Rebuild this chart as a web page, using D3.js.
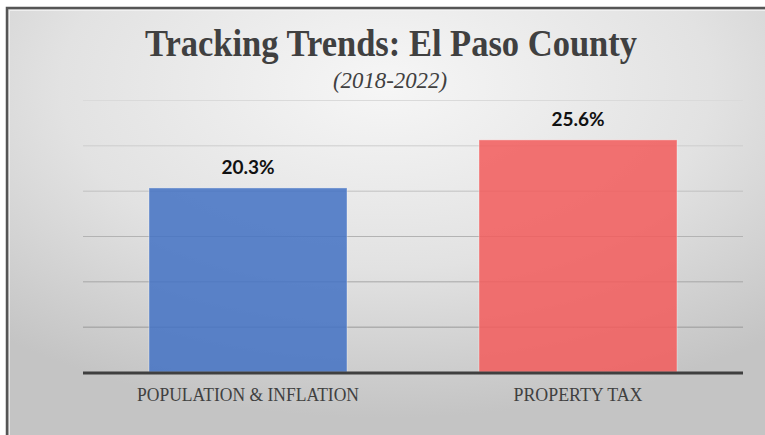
<!DOCTYPE html>
<html>
<head>
<meta charset="utf-8">
<script src="https://cdn.jsdelivr.net/npm/d3@7"></script>
<style>
  body { margin: 0; background: #fff; }
</style>
</head>
<body>
<div id="chart"></div>
<script>
const categories = ['POPULATION & INFLATION', 'PROPERTY TAX']
const values = [20.3, 25.6]
const valueLabels = ['20.3%', '25.6%']
const barColors = ['#4472c4', '#f25c5c']
const gridTicks = [0, 5, 10, 15, 20, 25, 30]

const W = 765, H = 435
const svg = d3.select('#chart').append('svg')
  .attr('width', W).attr('height', H)

const defs = svg.append('defs')
const bg = defs.append('radialGradient').attr('id', 'bg')
  .attr('cx', '50%').attr('cy', '18%').attr('r', '78%')
bg.append('stop').attr('offset', '0%').attr('stop-color', '#f6f6f6')
bg.append('stop').attr('offset', '55%').attr('stop-color', '#e2e2e2')
bg.append('stop').attr('offset', '100%').attr('stop-color', '#c4c4c4')

// frame
svg.append('rect').attr('x', 7).attr('y', 8).attr('width', W - 7).attr('height', H - 8)
  .attr('fill', 'url(#bg)')
svg.append('path').attr('d', `M7,${H} V8 H${W}`)
  .attr('fill', 'none').attr('stroke', '#555').attr('stroke-width', 2.5)
svg.append('path').attr('d', `M9.5,${H} V10.5 H${W}`)
  .attr('fill', 'none').attr('stroke', '#f4f4f4').attr('stroke-width', 1).attr('opacity', 0.8)

const x = d3.scaleBand().domain(categories).range([83, 743])
  .paddingInner(0.4).paddingOuter(0.2)
const y = d3.scaleLinear().domain([0, 30]).range([372, 100])

const gridColor = d3.interpolateRgb('#dadada', '#8c8c8c')
svg.append('g').selectAll('line')
  .data(gridTicks.filter(t => t > 0))
  .join('line')
  .attr('x1', 83).attr('x2', 743)
  .attr('y1', d => y(d) + 0.5).attr('y2', d => y(d) + 0.5)
  .attr('stroke', d => gridColor(1 - d / 30))
  .attr('stroke-width', 1)

svg.append('g').selectAll('rect')
  .data(values)
  .join('rect')
  .attr('x', (d, i) => x(categories[i]))
  .attr('y', d => y(d))
  .attr('width', x.bandwidth())
  .attr('height', d => y(0) - y(d))
  .attr('fill', (d, i) => barColors[i])
  .attr('fill-opacity', 0.86)
  .attr('stroke', '#fff')
  .attr('stroke-opacity', 0.35)
  .attr('stroke-width', 1)

// baseline
svg.append('line')
  .attr('x1', 83).attr('x2', 743)
  .attr('y1', y(0) + 1).attr('y2', y(0) + 1)
  .attr('stroke', '#3f3f3f').attr('stroke-width', 3)

svg.append('g').selectAll('text')
  .data(values)
  .join('text')
  .attr('x', (d, i) => x(categories[i]) + x.bandwidth() / 2)
  .attr('y', d => y(d) - 14)
  .attr('text-anchor', 'middle')
  .attr('font-family', 'Lato, sans-serif')
  .attr('font-weight', 700)
  .attr('font-size', 19)
  .attr('fill', '#111')
  .text((d, i) => valueLabels[i])

const catWidths = [222, 129]
svg.append('g').selectAll('text')
  .data(categories)
  .join('text')
  .attr('x', d => x(d) + x.bandwidth() / 2)
  .attr('y', 401)
  .attr('text-anchor', 'middle')
  .attr('font-family', '"Liberation Serif", serif')
  .attr('font-size', 19)
  .attr('fill', '#404040')
  .attr('textLength', (d, i) => catWidths[i])
  .attr('lengthAdjust', 'spacingAndGlyphs')
  .text(d => d)

svg.append('text')
  .attr('x', 391).attr('y', 56)
  .attr('text-anchor', 'middle')
  .attr('font-family', '"Liberation Serif", serif')
  .attr('font-weight', 700)
  .attr('font-size', 38)
  .attr('fill', '#404040')
  .attr('textLength', 492)
  .attr('lengthAdjust', 'spacingAndGlyphs')
  .text('Tracking Trends: El Paso County')

svg.append('text')
  .attr('x', 390).attr('y', 88)
  .attr('text-anchor', 'middle')
  .attr('font-family', '"Liberation Serif", serif')
  .attr('font-style', 'italic')
  .attr('font-size', 24)
  .attr('fill', '#404040')
  .attr('textLength', 114)
  .attr('lengthAdjust', 'spacingAndGlyphs')
  .text('(2018-2022)')
</script>
</body>
</html>
